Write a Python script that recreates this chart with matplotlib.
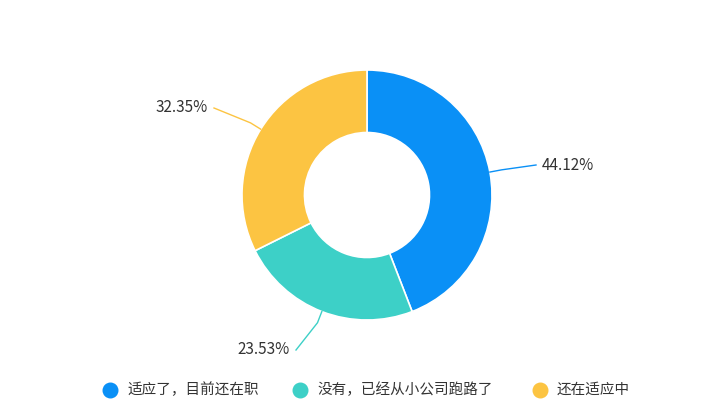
import matplotlib
matplotlib.use("Agg")
import matplotlib.pyplot as plt
import numpy as np

plt.rcParams['font.family'] = ['Noto Sans CJK SC', 'DejaVu Sans']

categories = ["适应了，目前还在职", "没有，已经从小公司跑路了", "还在适应中"]
values = [44.12, 23.53, 32.35]
colors = ["#0A90F6", "#3DD0C7", "#FCC442"]

fig = plt.figure(figsize=(7.26, 4.13), dpi=100)
ax = fig.add_axes([0, 0, 1, 1])
ax.set_xlim(0, 726)
ax.set_ylim(0, 413)
ax.set_aspect('equal')
ax.axis('off')

cx, cy, R = 367, 218, 125
wedges, _ = ax.pie(values, colors=colors, startangle=90, counterclock=False,
                   center=(cx, cy), radius=R, frame=True,
                   wedgeprops=dict(width=R * 0.5, edgecolor='white', linewidth=1.2))
ax.set_xlim(0, 726)
ax.set_ylim(0, 413)
ax.axis('off')

label_pos = [(542, 248), (290, 63), (208, 305)]
for w, v, col, (tx, ty) in zip(wedges, values, colors, label_pos):
    ang = np.deg2rad((w.theta1 + w.theta2) / 2)
    x0, y0 = cx + R * np.cos(ang), cy + R * np.sin(ang)
    x1, y1 = cx + (R + 12) * np.cos(ang), cy + (R + 12) * np.sin(ang)
    if tx > cx:
        ex = tx - 6; ha = 'left'
    else:
        ex = tx + 6; ha = 'right'
    ax.plot([x0, x1, ex], [y0, y1, ty], color=col, lw=1)
    ax.text(tx, ty, f"{v:.2f}%", ha=ha, va='center', fontsize=11, color='#333333')

leg_x = [110, 300, 540]
for x, c, lab in zip(leg_x, colors, categories):
    ax.scatter([x], [23], s=110, color=c)
    ax.text(x + 17, 23, lab, va='center', ha='left', fontsize=10.5, color='#333333')

fig.savefig("out.png", dpi=100)
